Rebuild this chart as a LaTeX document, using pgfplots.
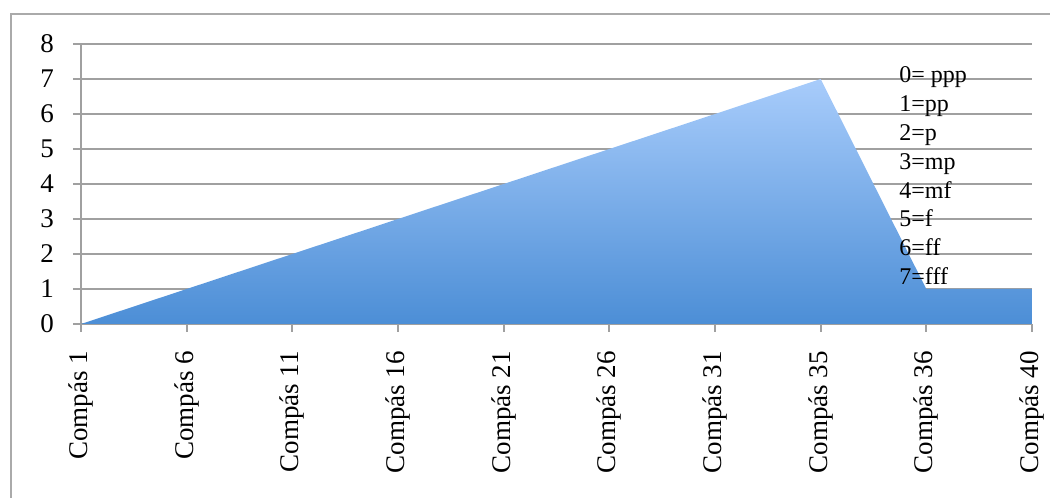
\documentclass[border=0pt]{standalone}
\usepackage{fontspec}
\setmainfont{Liberation Serif}
\usepackage{pgfplots}
\pgfplotsset{compat=1.18}

\definecolor{gridgray}{RGB}{160,160,160}
\definecolor{framegray}{RGB}{170,170,170}
\definecolor{toplight}{RGB}{168,204,251}
\definecolor{botdark}{RGB}{76,142,214}

\begin{document}
\begin{tikzpicture}
\useasboundingbox (0,0) rectangle (525pt,249pt);
% chart frame
\draw[framegray, line width=1pt] (5.5pt,-2pt) -- (5.5pt,242pt) -- (530pt,242pt);
\begin{axis}[
  at={(40.5pt,87pt)}, anchor=south west,
  scale only axis,
  width=475.5pt, height=140pt,
  xmin=0, xmax=9, ymin=0, ymax=8,
  enlargelimits=false,
  axis x line*=bottom, axis y line*=left,
  axis line style={-, draw=gridgray, line width=1pt},
  xtick=data,
  xticklabels={Compás 1,Compás 6,Compás 11,Compás 16,Compás 21,Compás 26,Compás 31,Compás 35,Compás 36,Compás 40},
  ytick={0,1,...,8},
  tick align=outside,
  major tick length=4pt,
  tick style={draw=gridgray, line width=1pt},
  ymajorgrids,
  grid style={draw=gridgray, line width=1pt},
  /pgf/number format/assume math mode=true,
  tick label style={font=\fontsize{13.5}{16}\selectfont, black},
  xticklabel style={rotate=90, anchor=east, xshift=-6pt},
  yticklabel style={xshift=-6pt},
]
\addplot[draw=none, top color=toplight, bottom color=botdark] table {
x y
0 0
1 1
2 2
3 3
4 4
5 5
6 6
7 7
8 1
9 1
} \closedcycle;
\end{axis}
% dynamics key
\foreach \t [count=\i from 0] in {0= ppp,1=pp,2=p,3=mp,4=mf,5=f,6=ff,7=fff}
  \node[anchor=base west, inner sep=0pt, font=\fontsize{12}{14}\selectfont]
    at (449.5pt,{207.5pt-\i*14.38pt}) {\t};
\end{tikzpicture}
\end{document}
